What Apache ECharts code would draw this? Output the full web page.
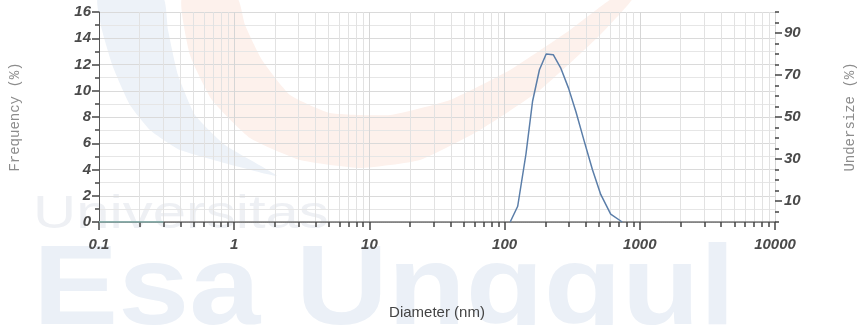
<!DOCTYPE html>
<html>
<head>
<meta charset="utf-8">
<script src="https://cdn.jsdelivr.net/npm/echarts@6/dist/echarts.min.js"></script>
<style>
html,body{margin:0;padding:0;background:#fff;}
#chart{width:865px;height:325px;}
</style>
</head>
<body>
<div id="chart"></div>
<script>
// ---- data ----
const diameters = [110, 125, 144, 161, 181, 203, 229, 261, 297, 337, 387, 446, 514, 609, 741];
const frequency = [0, 1.2, 5.2, 9.2, 11.6, 12.8, 12.75, 11.7, 10.2, 8.4, 6.2, 4.0, 2.1, 0.6, 0];
const undersizeDiameters = [0.1, 0.3];
const undersizeValues = [0, 0];
const xMajorTicks = [0.1, 1, 10, 100, 1000, 10000];
const xMinorTicks = [0.2,0.3,0.4,0.5,0.6,0.7,0.8,0.9,
  2,3,4,5,6,7,8,9,
  20,30,40,50,60,70,80,90,
  200,300,400,500,600,700,800,900,
  2000,3000,4000,5000,6000,7000,8000,9000];
const rightLabels = [10, 30, 50, 70, 90];

const chart = echarts.init(document.getElementById('chart'), null, {renderer: 'canvas'});

const numFont = {fontFamily: 'Liberation Sans', fontWeight: 'bold', fontStyle: 'italic', fontSize: 15, color: '#4a4a4a'};
const fmt = v => String(+(+v).toPrecision(6));
const tickStyle = {color: '#444', width: 1.5};

const option = {
  backgroundColor: '#ffffff',
  animation: false,
  grid: {left: 97, right: 88, top: 12, bottom: 102, containLabel: false},
  graphic: [
    {type: 'polygon', z: -10, silent: true,
     shape: {smooth: 0.15, points: [[98,-2],[102,30],[113,67],[130,105],[150,130],[180,150],[277,176],[225,145],[195,115],[178,75],[168,30],[163,-2]]},
     style: {fill: '#edf2f8'}},
    {type: 'polygon', z: -10, silent: true,
     shape: {smooth: 0.15, points: [[182,-2],[190,55],[212,100],[250,138],[300,160],[360,168],[420,160],[480,130],[540,90],[600,35],[633,-2],[613,-2],[570,30],[510,70],[450,100],[390,115],[330,113],[290,95],[262,60],[245,25],[237,-2]]},
     style: {fill: '#fdf1ec'}},
    {type: 'text', z: -10, silent: true, x: 33, y: 192, scaleX: 1.3,
     style: {text: 'Universitas', fontFamily: 'Liberation Sans', fontSize: 46, fill: '#eef0f4', verticalAlign: 'top'}},
    {type: 'text', z: -10, silent: true, x: 33, y: 236, scaleX: 1.12,
     style: {text: 'Esa Unggul', fontFamily: 'Liberation Sans', fontWeight: 'bold', fontSize: 114, fill: '#ebf0f7', verticalAlign: 'top'}}
  ],
  xAxis: [
    {
      type: 'log', logBase: 10, min: 0.1, max: 10000, position: 'bottom',
      name: 'Diameter (nm)', nameLocation: 'middle', nameGap: 83,
      nameTextStyle: {fontFamily: 'Liberation Sans', fontSize: 15, color: '#444'},
      axisLine: {show: true, lineStyle: {color: '#9a9a9a', type: 'dotted', width: 1}},
      axisTick: {show: true, inside: false, length: 8, lineStyle: tickStyle, customValues: xMajorTicks},
      axisLabel: Object.assign({margin: 15, formatter: fmt, customValues: xMajorTicks}, numFont),
      splitLine: {show: true, lineStyle: {color: '#d6d6d6', width: 1}},
      minorTick: {show: false}
    },
    {
      type: 'log', logBase: 10, min: 0.1, max: 10000, position: 'bottom', gridIndex: 0,
      axisLine: {show: false},
      axisTick: {show: true, inside: false, length: 5, lineStyle: tickStyle, customValues: xMinorTicks},
      axisLabel: {show: false},
      splitLine: {show: true, lineStyle: {color: '#e2e2e2', width: 1}}
    },
    {
      type: 'log', logBase: 10, min: 0.1, max: 10000, position: 'top', gridIndex: 0,
      axisLine: {show: true, lineStyle: {color: '#7a7a7a', width: 1.5}},
      axisTick: {show: false}, axisLabel: {show: false}, splitLine: {show: false}
    }
  ],
  yAxis: [
    {
      type: 'value', min: 0, max: 16, interval: 2, position: 'left',
      name: 'Frequency (%)', nameLocation: 'middle', nameGap: 77, nameRotate: 90,
      nameTextStyle: {fontFamily: 'Liberation Mono', fontSize: 14, color: '#8c8c8c'},
      axisLine: {show: true, lineStyle: {color: '#555', width: 1}},
      axisTick: {show: true, inside: false, length: 7, lineStyle: tickStyle},
      minorTick: {show: true, splitNumber: 2, length: 4, lineStyle: tickStyle},
      axisLabel: Object.assign({margin: 8}, numFont),
      splitLine: {show: true, lineStyle: {color: '#dadada', width: 1}},
      minorSplitLine: {show: true, lineStyle: {color: '#e6e6e6', width: 1}}
    },
    {
      type: 'value', min: 0, max: 100, interval: 10, position: 'right',
      name: 'Undersize (%)', nameLocation: 'middle', nameGap: 68, nameRotate: 90,
      nameTextStyle: {fontFamily: 'Liberation Mono', fontSize: 14, color: '#8c8c8c'},
      axisLine: {show: false},
      axisTick: {show: true, inside: false, length: 7, lineStyle: tickStyle, customValues: rightLabels},
      minorTick: {show: false},
      axisLabel: Object.assign({margin: 9, customValues: rightLabels}, numFont),
      splitLine: {show: false}
    },
    {
      type: 'value', min: 0, max: 100, interval: 5, position: 'right', gridIndex: 0,
      axisLine: {show: false},
      axisTick: {show: true, inside: false, length: 4, lineStyle: tickStyle},
      axisLabel: {show: false}, splitLine: {show: false}
    }
  ],
  series: [
    {
      name: 'Frequency', type: 'line', xAxisIndex: 0, yAxisIndex: 0,
      data: diameters.map((d, i) => [d, frequency[i]]),
      showSymbol: false, smooth: false, z: 5,
      lineStyle: {color: '#5b7ea9', width: 1.5}
    },
    {
      name: 'Undersize', type: 'line', xAxisIndex: 0, yAxisIndex: 1,
      data: undersizeDiameters.map((d, i) => [d, undersizeValues[i]]),
      showSymbol: false, z: 4,
      lineStyle: {color: '#86b5b0', width: 1.5}
    }
  ]
};
chart.setOption(option);
</script>
</body>
</html>
